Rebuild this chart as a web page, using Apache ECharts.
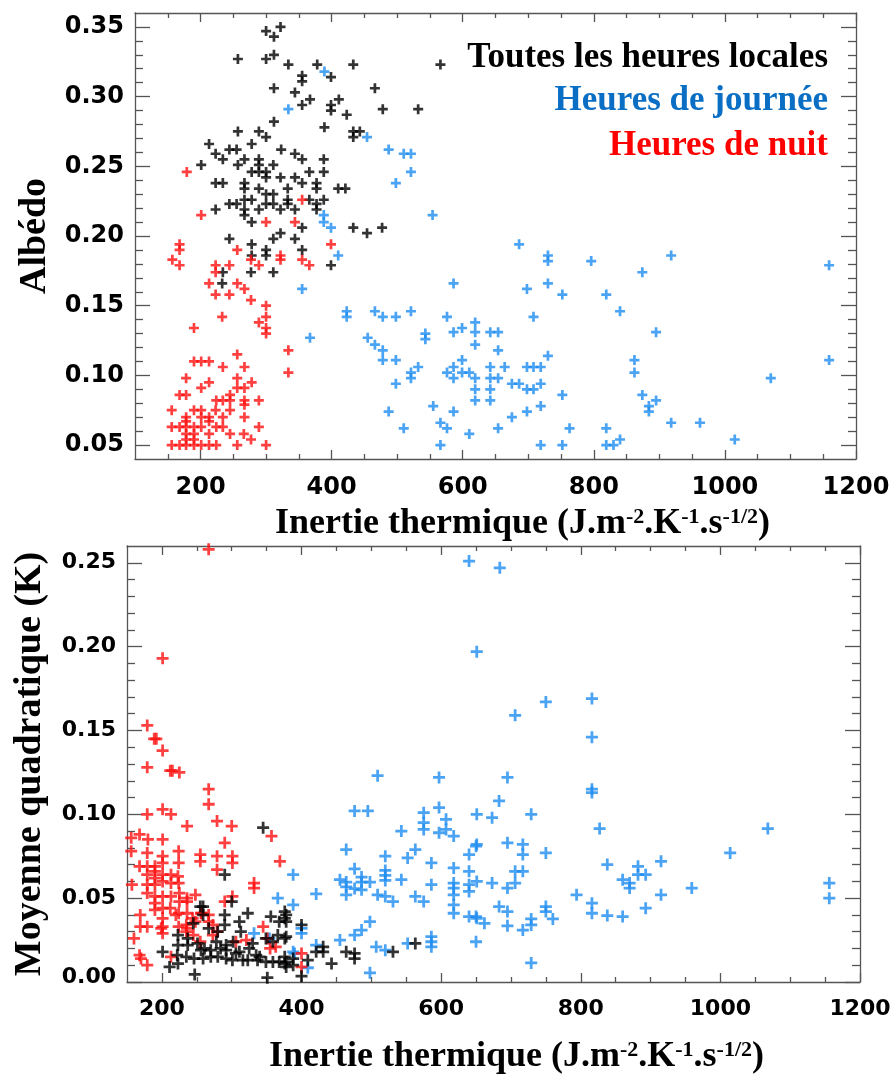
<!DOCTYPE html>
<html>
<head>
<meta charset="utf-8">
<script src="https://cdn.jsdelivr.net/npm/echarts@6/dist/echarts.min.js"></script>
<style>html,body{margin:0;padding:0;background:#fff;}#c{width:894px;height:1076px;}</style>
</head>
<body>
<div id="c"></div>
<script>
// ---------- DATA ----------
const seriesNames = ['Toutes les heures locales', 'Heures de journée', 'Heures de nuit'];

// Top panel: albedo vs thermal inertia
const topAll = [[300,0.347],[312,0.343],[322,0.350],[257,0.327],[300,0.327],[312,0.330],[312,0.306],[334,0.323],[378,0.323],[399,0.314],[355,0.315],[355,0.311],[344,0.303],[355,0.294],[367,0.298],[399,0.294],[399,0.290],[411,0.298],[433,0.323],[466,0.306],[423,0.287],[478,0.291],[532,0.291],[566,0.323],[312,0.282],[389,0.278],[257,0.275],[289,0.275],[300,0.271],[433,0.275],[443,0.275],[433,0.271],
[213,0.266],[244,0.262],[255,0.262],[278,0.266],[323,0.262],[223,0.259],[234,0.255],[201,0.251],[257,0.251],[267,0.255],[289,0.255],[289,0.251],[289,0.246],[278,0.246],[300,0.246],[311,0.251],[300,0.242],[344,0.259],[355,0.255],[388,0.255],[388,0.246],[366,0.246],[322,0.242],[344,0.242],[355,0.238],[377,0.238],[377,0.234],[410,0.234],[421,0.234],[223,0.238],[234,0.238],[267,0.238],[267,0.234],[289,0.234],[333,0.234],[300,0.230],[311,0.230],[267,0.226],[278,0.226],[333,0.226],[366,0.226],[388,0.226],[377,0.223],[244,0.223],[255,0.223],[267,0.219],[289,0.219],[300,0.223],[311,0.223],[322,0.219],[344,0.219],[333,0.223],[377,0.219],[223,0.219],[267,0.215],[278,0.210],[355,0.206],[433,0.206],[454,0.202],[477,0.206],[322,0.202],[311,0.198],[344,0.198],[244,0.198],[278,0.194],[278,0.186],[300,0.190],[300,0.186],[355,0.190],[234,0.174],[233,0.166],[277,0.174],[311,0.174],[399,0.179]];

const topDay = [[389,0.318],[334,0.291],[454,0.271],[487,0.262],[510,0.259],[521,0.259],[521,0.246],[498,0.238],[554,0.215],[388,0.215],[388,0.210],[399,0.206],[410,0.186],[355,0.162],[367,0.127],[423,0.146],[423,0.142],[466,0.146],[478,0.142],[498,0.142],[521,0.146],[543,0.130],[543,0.126],[576,0.142],[455,0.127],[466,0.122],[478,0.118],[478,0.111],[498,0.111],[498,0.094],[521,0.102],[521,0.098],[532,0.106],[576,0.102],[487,0.074],[510,0.062],[555,0.078],[566,0.066],[576,0.062],[566,0.050],
[686,0.194],[730,0.186],[730,0.182],[796,0.182],[918,0.186],[1159,0.179],[874,0.174],[586,0.166],[698,0.162],[730,0.166],[752,0.158],[819,0.158],[840,0.146],[708,0.142],[599,0.134],[586,0.131],[619,0.138],[619,0.131],[619,0.122],[642,0.131],[654,0.131],[654,0.118],[895,0.131],[599,0.111],[586,0.106],[599,0.102],[610,0.102],[586,0.098],[619,0.098],[642,0.106],[642,0.098],[654,0.098],[664,0.106],[698,0.106],[708,0.106],[719,0.106],[730,0.114],[675,0.094],[686,0.094],[698,0.090],[708,0.090],[719,0.094],[619,0.090],[619,0.082],[642,0.090],[642,0.082],[862,0.111],[862,0.102],[1159,0.111],[1070,0.098],[752,0.086],[874,0.086],[884,0.078],[884,0.074],[895,0.082],[586,0.074],[698,0.074],[719,0.078],[675,0.070],[610,0.058],[654,0.062],[763,0.062],[819,0.062],[918,0.066],[962,0.066],[719,0.050],[752,0.050],[819,0.050],[830,0.050],[840,0.054],[1015,0.054]];

const topNight = [[179,0.246],[201,0.215],[355,0.226],[300,0.210],[344,0.210],[399,0.194],[256,0.190],[168,0.194],[168,0.190],[157,0.183],[168,0.179],[223,0.179],[223,0.174],[244,0.179],[277,0.183],[289,0.179],[322,0.186],[322,0.183],[355,0.183],[366,0.179],[213,0.166],[256,0.166],[267,0.162],[223,0.158],[244,0.158],[277,0.154],[300,0.150],[300,0.142],[289,0.138],[300,0.134],[300,0.130],[233,0.142],[190,0.134],[334,0.118],[334,0.102],
[256,0.115],[190,0.110],[201,0.110],[213,0.110],[234,0.106],[267,0.106],[178,0.098],[256,0.098],[213,0.095],[201,0.091],[256,0.091],[267,0.091],[278,0.095],[168,0.086],[178,0.086],[224,0.082],[234,0.082],[245,0.082],[245,0.086],[267,0.082],[267,0.079],[289,0.082],[156,0.075],[190,0.075],[201,0.075],[223,0.075],[245,0.075],[178,0.070],[201,0.070],[213,0.070],[234,0.070],[267,0.070],[156,0.063],[168,0.063],[178,0.063],[213,0.067],[224,0.063],[234,0.063],[245,0.058],[178,0.058],[190,0.058],[213,0.058],[266,0.058],[289,0.063],[277,0.054],[178,0.054],[190,0.054],[156,0.050],[168,0.050],[178,0.050],[190,0.050],[201,0.050],[213,0.050],[224,0.050],[256,0.050],[300,0.050],[178,0.067],[190,0.063],[201,0.063]];

// Bottom panel: RMS (K) vs thermal inertia
const botAll = [[345,0.092],[290,0.064],[259,0.045],[259,0.040],[290,0.040],[290,0.034],[311,0.036],[323,0.041],[356,0.039],[368,0.036],[378,0.040],[378,0.036],[300,0.048],[255,0.045],[223,0.028],[237,0.026],[237,0.022],[223,0.022],[201,0.018],[222,0.016],[251,0.023],[261,0.020],[270,0.019],[278,0.024],[292,0.022],[292,0.019],[302,0.024],[311,0.018],[325,0.020],[335,0.016],[340,0.015],[349,0.026],[359,0.024],[366,0.028],[378,0.027],[235,0.015],[246,0.014],[259,0.014],[270,0.015],[280,0.015],[292,0.014],[301,0.013],[316,0.013],[323,0.013],[337,0.013],[349,0.012],[359,0.012],[368,0.012],[378,0.012],[211,0.009],[223,0.011],[378,0.009],[247,0.0045],[351,0.0026],[376,0.042],[376,0.038],[400,0.034],[376,0.026],[376,0.015],[388,0.014],[376,0.011],[388,0.010],[409,0.013],[421,0.018],[431,0.021],[431,0.018],[443,0.011],[464,0.018],[476,0.017],[476,0.014],[531,0.018],[563,0.023],[400,0.0035],[267,0.032],[280,0.030],[245,0.035],[313,0.030],[256,0.019],[284,0.020],[306,0.017],[330,0.023]];

const botDay = [[640,0.251],[684,0.247],[651,0.197],[706,0.159],[750,0.167],[816,0.169],[816,0.146],[509,0.123],[597,0.122],[695,0.122],[816,0.115],[816,0.113],
[476,0.102],[495,0.102],[543,0.090],[575,0.101],[575,0.095],[575,0.091],[597,0.104],[607,0.097],[607,0.091],[597,0.089],[618,0.087],[651,0.100],[673,0.098],[729,0.100],[827,0.0915],[1068,0.0915],[683,0.108],
[1014,0.077],[586,0.071],[651,0.082],[695,0.083],[717,0.082],[717,0.076],[750,0.077],[673,0.059],[651,0.060],[695,0.056],[706,0.059],[706,0.066],[717,0.066],[651,0.038],[662,0.035],[683,0.045],[695,0.042],[695,0.0335],[717,0.031],[729,0.0376],[729,0.034],[750,0.045],[750,0.042],[760,0.0376],[794,0.052],[816,0.047],[816,0.041],[838,0.070],[838,0.0396],[860,0.061],[860,0.039],[870,0.059],[870,0.056],[882,0.069],[882,0.064],[893,0.064],[893,0.044],[915,0.072],[915,0.052],[959,0.056],[1156,0.059],[1156,0.050],[729,0.0114],
[464,0.079],[388,0.064],[421,0.0525],[388,0.046],[476,0.0675],[455,0.061],[464,0.0596],[464,0.0567],[464,0.052],[476,0.0557],[486,0.0626],[486,0.0596],[486,0.055],[498,0.0596],[520,0.075],[520,0.0665],[520,0.0636],[520,0.0606],[509,0.052],[520,0.051],[531,0.048],[543,0.061],[552,0.074],[563,0.079],[563,0.051],[575,0.048],[586,0.058],[618,0.068],[618,0.059],[618,0.056],[618,0.052],[618,0.046],[618,0.041],[640,0.076],[640,0.066],[640,0.058],[640,0.054],[650,0.081],[640,0.039],[650,0.039],[650,0.024],[586,0.027],[586,0.024],[586,0.021],[552,0.023],[507,0.021],[520,0.019],[455,0.025],[476,0.028],[486,0.031],[498,0.036],[498,0.0055],[421,0.022],[388,0.018],[409,0.0085],[400,0.032],[400,0.029],[332,0.029],[354,0.026],[390,0.017],[366,0.050]];

const botNight = [[267,0.258],[201,0.193],[179,0.153],[189,0.145],[192,0.145],[201,0.138],[179,0.128],[212,0.126],[215,0.126],[225,0.125],[267,0.115],
[267,0.106],[179,0.100],[201,0.103],[213,0.100],[236,0.093],[279,0.096],[300,0.093],[168,0.088],[156,0.086],[180,0.085],[201,0.085],[357,0.087],
[156,0.078],[179,0.077],[201,0.075],[201,0.071],[224,0.078],[224,0.071],[255,0.076],[255,0.072],[279,0.075],[279,0.067],[290,0.083],[301,0.075],[301,0.071],[369,0.072],
[168,0.069],[179,0.069],[190,0.069],[190,0.066],[179,0.064],[201,0.064],[213,0.064],[190,0.062],[157,0.058],[179,0.058],[190,0.058],[201,0.060],[213,0.059],[224,0.059],[223,0.063],[179,0.053],[190,0.051],[201,0.051],[213,0.051],[225,0.053],[225,0.048],[236,0.048],[248,0.052],[236,0.050],[190,0.047],[190,0.043],[201,0.044],[212,0.044],[224,0.041],[236,0.041],[169,0.040],[169,0.033],[179,0.033],[201,0.038],[201,0.033],[201,0.029],[224,0.033],[236,0.032],[248,0.036],[257,0.041],[267,0.040],[267,0.036],[279,0.030],[245,0.028],[255,0.024],[301,0.051],[290,0.048],[332,0.059],[332,0.056],[321,0.025],[345,0.033],[355,0.020],[351,0.026],[363,0.021],[306,0.024],[168,0.016],[170,0.014],[179,0.010],[213,0.015],[160,0.026],[400,0.017],[400,0.009],[244,0.038],[256,0.041],[235,0.034],[235,0.030],[273,0.034],[273,0.028],[199,0.032],[220,0.040]];

// Tick values
const topXMajor = [200, 400, 600, 800, 1000, 1200];
const topXMinor = [150, 250, 300, 350, 450, 500, 550, 650, 700, 750, 850, 900, 950, 1050, 1100, 1150];
const topYMajor = [0.05, 0.10, 0.15, 0.20, 0.25, 0.30, 0.35];
const topYMinor = [0.06,0.07,0.08,0.09,0.11,0.12,0.13,0.14,0.16,0.17,0.18,0.19,0.21,0.22,0.23,0.24,0.26,0.27,0.28,0.29,0.31,0.32,0.33,0.34];
const botXMajor = [200, 400, 600, 800, 1000, 1200];
const botXMinor = [250, 300, 350, 450, 500, 550, 650, 700, 750, 850, 900, 950, 1050, 1100, 1150];
const botYMajor = [0.00, 0.05, 0.10, 0.15, 0.20, 0.25];
const botYMinor = [0.01,0.02,0.03,0.04,0.06,0.07,0.08,0.09,0.11,0.12,0.13,0.14,0.16,0.17,0.18,0.19,0.21,0.22,0.23,0.24];

const xTitle = '{a|Inertie thermique (J.m}{b|-2}{a|.K}{b|-1}{a|.s}{b|-1/2}{a|)}';

// ---------- STYLE ----------
const LINE = '#555555';
const COLORS = ['#000000', '#1E8CF0', '#FF1010'];
const LEGEND_COLORS = ['#000000', '#0A6FC4', '#FF0000'];
function plusPath(t) {
  const a = (10 - t) / 2;
  return 'path://M' + a + ',0h' + t + 'v' + a + 'h' + a + 'v' + t + 'h-' + a + 'v' + a +
         'h-' + t + 'v-' + a + 'h-' + a + 'v-' + t + 'h' + a + 'z';
}
const PLUS_TOP = plusPath(2.7);
const PLUS_BOT = plusPath(2.3);
const SERIF = 'Liberation Serif';
const SANS = 'DejaVu Sans';

function axisSet(dim, g, min, max, major, minor, cfg) {
  const sides = dim === 'x' ? ['bottom', 'top'] : ['left', 'right'];
  const out = [];
  sides.forEach((side, si) => {
    [['major', major], ['minor', minor]].forEach(([kind, vals]) => {
      const main = si === 0 && kind === 'major';
      const ax = {
        gridIndex: g, type: 'value', min: min, max: max, position: side,
        axisLine: { show: kind === 'major', onZero: false, lineStyle: { color: LINE, width: 1.3 } },
        axisTick: { show: true, inside: true, length: kind === 'major' ? cfg.majLen : cfg.minLen,
                    customValues: vals, lineStyle: { color: LINE, width: 1.3 } },
        axisLabel: { show: false },
        splitLine: { show: false }
      };
      if (main) {
        ax.axisLabel = Object.assign({
          show: true, customValues: vals, color: '#000', fontFamily: SANS, fontWeight: 'bold',
          fontSize: cfg.fs, margin: cfg.margin
        }, cfg.label || {});
        if (cfg.name) {
          ax.name = cfg.name;
          ax.nameLocation = 'middle';
          ax.nameGap = cfg.nameGap;
          ax.nameRotate = cfg.nameRotate;
          ax.nameTextStyle = cfg.nameTextStyle;
        }
      }
      out.push(ax);
    });
  });
  return out;
}

const xNameStyle = (fs, padLeft) => ({
  padding: [0, 0, 0, padLeft],
  rich: {
    a: { fontFamily: SERIF, fontWeight: 'bold', fontSize: fs, color: '#000' },
    b: { fontFamily: SERIF, fontWeight: 'bold', fontSize: Math.round(fs * 0.6), color: '#000', verticalAlign: 'top' }
  }
});

const xAxes = [].concat(
  axisSet('x', 0, 100, 1200, topXMajor, topXMinor, { majLen: 9, minLen: 5, fs: 24, margin: 17,
    label: { formatter: v => String(v) },
    name: xTitle, nameGap: 47, nameTextStyle: xNameStyle(36, 54) }),
  axisSet('x', 1, 150, 1200, botXMajor, botXMinor, { majLen: 9, minLen: 5, fs: 22, margin: 16,
    label: { formatter: v => String(v) },
    name: xTitle, nameGap: 57, nameTextStyle: xNameStyle(36, 46) })
);
const yAxes = [].concat(
  axisSet('y', 0, 0.04, 0.36, topYMajor, topYMinor, { majLen: 15, minLen: 8, fs: 24, margin: 11,
    label: { formatter: v => v.toFixed(2) },
    name: 'Albédo', nameGap: 73, nameRotate: 90,
    nameTextStyle: { fontFamily: SERIF, fontWeight: 'bold', fontSize: 38, color: '#000' } }),
  axisSet('y', 1, 0, 0.26, botYMajor, botYMinor, { majLen: 15, minLen: 8, fs: 22, margin: 11,
    label: { formatter: v => (Math.abs(v) < 1e-9 ? '{lo|0.00}' : v.toFixed(2)),
             rich: { lo: { fontFamily: SANS, fontWeight: 'bold', fontSize: 22, color: '#000', padding: [0, 0, 9, 0] } } },
    name: 'Moyenne quadratique (K)', nameGap: 78, nameRotate: 90,
    nameTextStyle: { fontFamily: SERIF, fontWeight: 'bold', fontSize: 38, color: '#000' } })
);

function sc(name, data, grid, color, size, sym, z) {
  return {
    name: name, type: 'scatter', xAxisIndex: grid * 4, yAxisIndex: grid * 4,
    data: data, symbol: sym, symbolSize: size, itemStyle: { color: color }, z: z,
    silent: true, animation: false
  };
}

const legendTops = [40, 83, 128];
const legends = seriesNames.map((n, i) => ({
  data: [n], right: 66, top: legendTops[i], icon: 'none', itemWidth: 0, itemHeight: 0,
  padding: 0, selectedMode: false,
  textStyle: { fontFamily: SERIF, fontWeight: 'bold', fontSize: 35, color: LEGEND_COLORS[i], padding: 0 }
}));

const option = {
  backgroundColor: '#ffffff',
  animation: false,
  legend: legends,
  grid: [
    { left: 135, top: 13, right: 38, height: 446 },
    { left: 127, top: 546, right: 34, height: 443 }
  ],
  xAxis: xAxes,
  yAxis: yAxes,
  series: [
    sc(seriesNames[0], topAll, 0, COLORS[0], 10, PLUS_TOP, 2),
    sc(seriesNames[1], topDay, 0, COLORS[1], 10, PLUS_TOP, 3),
    sc(seriesNames[2], topNight, 0, COLORS[2], 10, PLUS_TOP, 4),
    sc(seriesNames[1], botDay, 1, COLORS[1], 12, PLUS_BOT, 2),
    sc(seriesNames[2], botNight, 1, COLORS[2], 12, PLUS_BOT, 3),
    sc(seriesNames[0], botAll, 1, COLORS[0], 12, PLUS_BOT, 4)
  ]
};

const chart = echarts.init(document.getElementById('c'), null, { renderer: 'canvas' });
chart.setOption(option);
</script>
</body>
</html>
